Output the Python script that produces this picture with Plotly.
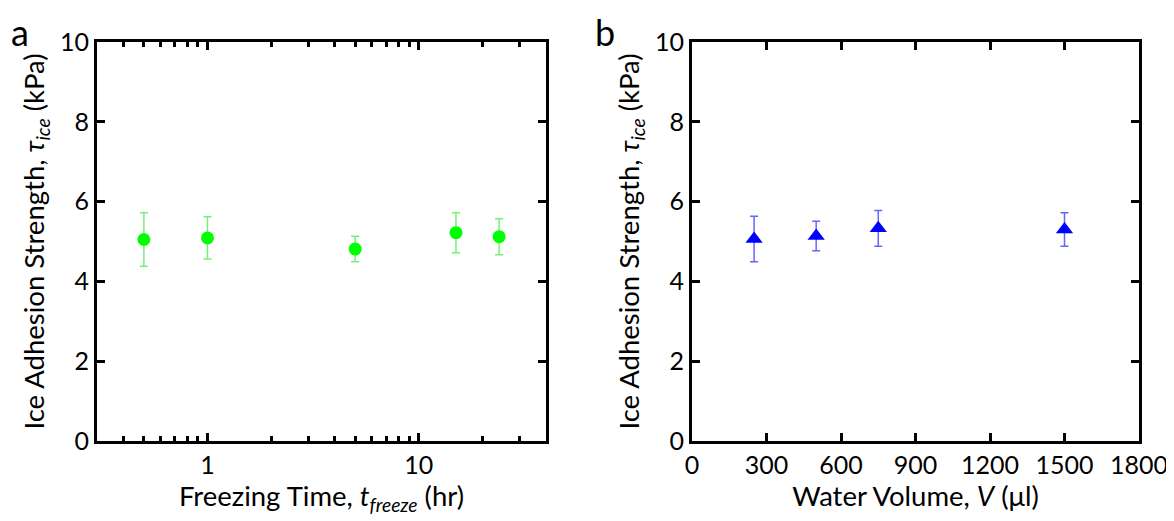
import plotly.graph_objects as go
import math

# Panel a: freezing time
freeze_time = [0.5, 1, 5, 15, 24]
freeze_tau = [5.05, 5.09, 4.81, 5.22, 5.12]
freeze_err = [0.67, 0.53, 0.32, 0.50, 0.45]

# Panel b: water volume
volume = [250, 500, 750, 1500]
volume_tau = [5.06, 5.14, 5.33, 5.30]
volume_err = [0.57, 0.37, 0.45, 0.42]

y_ticks = [0, 2, 4, 6, 8, 10]
x_ticks_a = [1, 10]
x_ticks_b = [0, 300, 600, 900, 1200, 1500, 1800]

FONT = "Lato, Open Sans, sans-serif"
OFF = 8  # page body margin
W, H = 1174 - OFF, 521 - OFF
ML, MR, MT = 97 - OFF, 1174 - 1139, 42 - OFF
MB = H - (441 - OFF)
PW = W - ML - MR
PH = H - MT - MB

fig = go.Figure()
fig.add_trace(go.Scatter(
    x=freeze_time, y=freeze_tau, mode="markers",
    marker=dict(symbol="circle", size=13, color="#00ff00"),
    error_y=dict(type="data", array=freeze_err, color="rgba(0,230,0,0.55)", thickness=1.5, width=4),
    xaxis="x", yaxis="y", showlegend=False))
fig.add_trace(go.Scatter(
    x=volume, y=volume_tau, mode="markers",
    marker=dict(symbol="triangle-up", size=15, color="#0000ff"),
    error_y=dict(type="data", array=volume_err, color="rgba(0,0,255,0.6)", thickness=1.5, width=4),
    xaxis="x2", yaxis="y2", showlegend=False))

axis_common = dict(showline=True, linecolor="black", linewidth=3, mirror="allticks",
                   ticks="inside", tickcolor="black", tickwidth=2.5, ticklen=8,
                   showgrid=False, zeroline=False, automargin=False,
                   tickfont=dict(family=FONT, size=25, color="black"))

ytitle = "Ice Adhesion Strength, <i>τ<sub>ice</sub></i> (kPa)"
TFONT = dict(family=FONT, size=27.5, color="black")

fig.update_layout(
    width=W, height=H,
    margin=dict(l=ML, r=MR, t=MT, b=MB),
    paper_bgcolor="white", plot_bgcolor="white",
    font=dict(family=FONT, color="black"),
    xaxis=dict(**axis_common, type="log", domain=[0, (546 - OFF - ML) / PW],
               range=[math.log10(0.3), math.log10(40)], tickvals=x_ticks_a,
               ticktext=[str(v) for v in x_ticks_a],
               minor=dict(ticks="inside", ticklen=5, tickwidth=2.5, tickcolor="black", dtick="D1"),
               title=dict(text="Freezing Time, <i>t<sub>freeze</sub></i> (hr)", font=TFONT, standoff=8),
               anchor="y"),
    yaxis=dict(**axis_common, domain=[0, 1], range=[0, 10], tickvals=y_ticks,
               title=dict(text=ytitle, font=TFONT, standoff=8),
               anchor="x"),
    xaxis2=dict(**axis_common, domain=[(692 - OFF - ML) / PW, 1], range=[0, 1800], tickvals=x_ticks_b,
                title=dict(text="Water Volume, <i>V</i> (μl)", font=TFONT, standoff=8),
                anchor="y2"),
    yaxis2=dict(**axis_common, domain=[0, 1], range=[0, 10], tickvals=y_ticks,
                title=dict(text=ytitle, font=TFONT, standoff=8),
                anchor="x2"),
    annotations=[
        dict(text="a", x=(9 - OFF - ML) / PW, y=1 + MT / PH, xref="paper", yref="paper",
             xanchor="left", yanchor="top", showarrow=False,
             font=dict(family=FONT, size=36, color="black")),
        dict(text="b", x=(593 - OFF - ML) / PW, y=1 + MT / PH, xref="paper", yref="paper",
             xanchor="left", yanchor="top", showarrow=False,
             font=dict(family=FONT, size=36, color="black")),
    ],
)

fig.write_html("out.html")
